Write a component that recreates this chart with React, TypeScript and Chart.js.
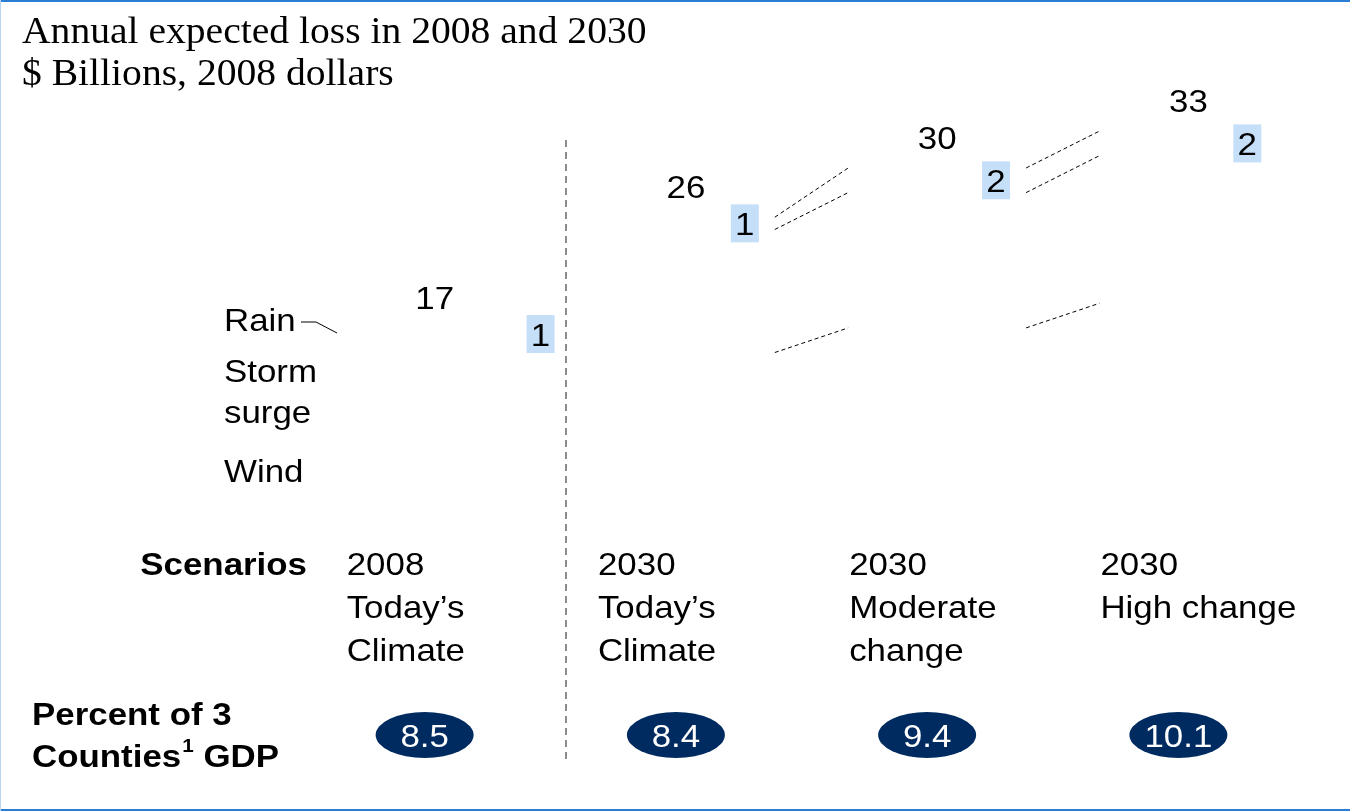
import React, { useEffect, useRef } from "react";
import { Chart, registerables } from "chart.js";

Chart.register(...registerables);

const categories = ["2008 Today's Climate", "2030 Today's Climate", "2030 Moderate change", "2030 High change"];
const scenarioLines = [
  ["2008", "Today’s", "Climate"],
  ["2030", "Today’s", "Climate"],
  ["2030", "Moderate", "change"],
  ["2030", "High change"],
];
const windValues = [10, 15, 17, 19];
const surgeValues = [6, 10, 11, 12];
const rainValues = [1, 1, 2, 2];
const totalValues = [17, 26, 30, 33];
const gdpShare = ["8.5", "8.4", "9.4", "10.1"];
const seriesNames = ["Wind", "Storm surge", "Rain"];
const titleLines = ["Annual expected loss in 2008 and 2030", "$ Billions, 2008 dollars"];

const SX = 1.09;
const SANS = "32px 'Liberation Sans', Arial, sans-serif";
const SANS_B = "bold 32px 'Liberation Sans', Arial, sans-serif";

function txt(ctx: CanvasRenderingContext2D, s: string, x: number, y: number, font: string, align = "left", color = "#000", sx = SX) {
  ctx.save();
  ctx.font = font;
  ctx.fillStyle = color;
  ctx.textBaseline = "alphabetic";
  ctx.textAlign = "left";
  const w = ctx.measureText(s).width * sx;
  const x0 = align === "left" ? x : align === "center" ? x - w / 2 : x - w;
  ctx.translate(x0, y);
  ctx.scale(sx, 1);
  ctx.fillText(s, 0, 0);
  ctx.restore();
  return w;
}

const overlay = {
  id: "overlay",
  afterDraw(chart: any) {
    const ctx: CanvasRenderingContext2D = chart.ctx;
    const W = chart.width, H = chart.height;
    const wind = chart.getDatasetMeta(0).data;
    const surge = chart.getDatasetMeta(1).data;
    const rain = chart.getDatasetMeta(2).data;

    // frame
    ctx.save();
    ctx.fillStyle = "#2B7CD3";
    ctx.fillRect(0, 0, W, 2);
    ctx.fillRect(0, H - 2, W, 2);
    ctx.fillStyle = "#B9D5F1";
    ctx.fillRect(0, 0, 1, H);
    ctx.restore();

    // title
    const serif = "37px 'Liberation Serif', 'Times New Roman', serif";
    txt(ctx, titleLines[0], 22, 43, serif, "left", "#000", 1.07);
    txt(ctx, titleLines[1], 22, 85, serif, "left", "#000", 1.07);

    // separator
    ctx.save();
    ctx.strokeStyle = "#8C8C8C";
    ctx.lineWidth = 2;
    ctx.setLineDash([7, 5]);
    ctx.beginPath();
    ctx.moveTo(566, 140);
    ctx.lineTo(566, 762);
    ctx.stroke();
    ctx.restore();

    // connectors
    ctx.save();
    ctx.strokeStyle = "#000";
    ctx.lineWidth = 1;
    ctx.setLineDash([4, 3]);
    for (let i = 1; i < categories.length - 1; i++) {
      for (const set of [wind, surge, rain]) {
        const a = set[i], b = set[i + 1];
        ctx.beginPath();
        ctx.moveTo(a.x + a.width / 2, a.y);
        ctx.lineTo(b.x - b.width / 2, b.y);
        ctx.stroke();
      }
    }
    ctx.restore();

    // totals & rain labels
    for (let i = 0; i < categories.length; i++) {
      const r = rain[i];
      txt(ctx, String(totalValues[i]), r.x, r.y - 19, SANS, "center");
      const right = r.x + r.width / 2;
      const cx = i === 0 ? right + 17 : right - 30;
      const cy = (r.y + r.base) / 2;
      ctx.save();
      ctx.fillStyle = "#C6DFF8";
      ctx.fillRect(cx - 14, cy - 19, 28, 38);
      ctx.restore();
      txt(ctx, String(rainValues[i]), cx, cy + 12, SANS, "center");
    }

    // legend
    txt(ctx, "Rain", 224, 331, SANS);
    txt(ctx, "Storm", 224, 382, SANS);
    txt(ctx, "surge", 224, 423, SANS);
    txt(ctx, "Wind", 224, 482, SANS);
    ctx.save();
    ctx.strokeStyle = "#000";
    ctx.lineWidth = 1;
    ctx.beginPath();
    ctx.moveTo(301, 322);
    ctx.lineTo(316, 322);
    ctx.lineTo(337, 333);
    ctx.stroke();
    ctx.restore();

    // scenarios
    txt(ctx, "Scenarios", 307, 575, SANS_B, "right");
    for (let i = 0; i < categories.length; i++) {
      const b = rain[i];
      const left = b.x - b.width / 2;
      scenarioLines[i].forEach((s, k) => txt(ctx, s, left + 1, 575 + k * 43, SANS));
    }

    // GDP
    txt(ctx, "Percent of 3", 32, 725, SANS_B);
    let w = txt(ctx, "Counties", 32, 767, SANS_B);
    w += txt(ctx, "1", 32 + w + 1, 752, "bold 19px 'Liberation Sans', Arial, sans-serif");
    txt(ctx, " GDP", 32 + w + 1, 767, SANS_B);
    for (let i = 0; i < categories.length; i++) {
      const cx = rain[i].x - 10;
      ctx.save();
      ctx.fillStyle = "#002B60";
      ctx.beginPath();
      ctx.ellipse(cx, 735, 49, 23, 0, 0, Math.PI * 2);
      ctx.fill();
      ctx.restore();
      txt(ctx, gdpShare[i], cx, 747, SANS, "center", "#fff");
    }
  },
};

export default function App() {
  const ref = useRef<HTMLCanvasElement>(null);
  useEffect(() => {
    if (!ref.current) return;
    const chart = new Chart(ref.current, {
      type: "bar",
      data: {
        labels: categories,
        datasets: [
          { label: seriesNames[0], data: windValues, backgroundColor: "#ffffff" },
          { label: seriesNames[1], data: surgeValues, backgroundColor: "#ffffff" },
          { label: seriesNames[2], data: rainValues, backgroundColor: "#ffffff" },
        ],
      },
      options: {
        responsive: false,
        animation: false,
        layout: { padding: { left: 309, right: 36, top: 45, bottom: 274 } },
        datasets: { bar: { categoryPercentage: 1, barPercentage: 0.708 } },
        scales: {
          x: { stacked: true, display: false },
          y: { stacked: true, display: false, min: 0, max: 40 },
        },
        plugins: { legend: { display: false }, title: { display: false }, tooltip: { enabled: false } },
      },
      plugins: [overlay],
    });
    return () => chart.destroy();
  }, []);
  return (
    <div style={{ position: "fixed", left: 0, top: 0, width: 1350, height: 811, background: "#fff" }}>
      <canvas ref={ref} width={1350} height={811} />
    </div>
  );
}
